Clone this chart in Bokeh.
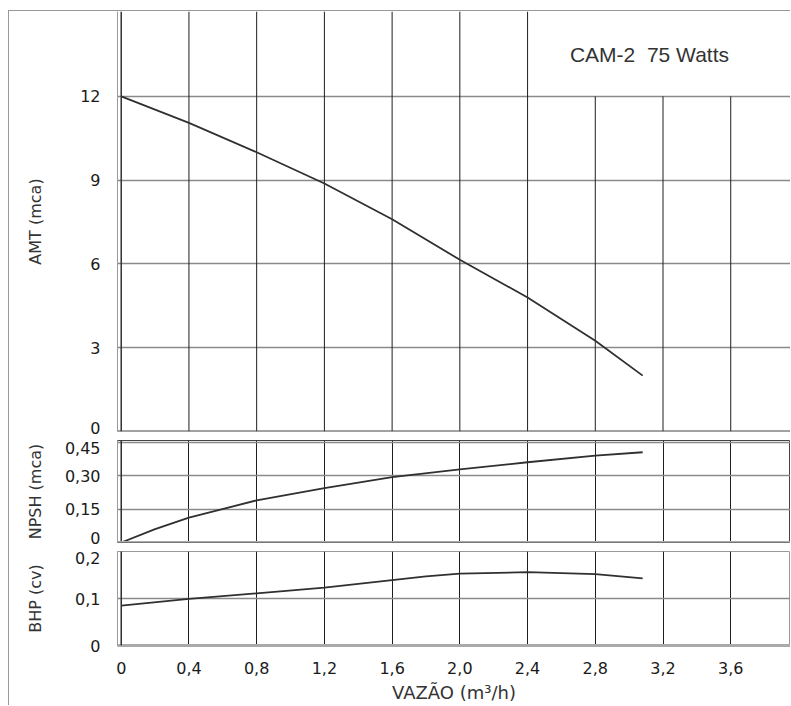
from bokeh.plotting import figure
from bokeh.layouts import column
from bokeh.models import Range1d, FixedTicker, Span, Label
from bokeh.embed import file_html
from bokeh.resources import INLINE

# ---- data ----
flow_ticks = [0, 0.4, 0.8, 1.2, 1.6, 2.0, 2.4, 2.8, 3.2, 3.6]
flow_labels = ["0", "0,4", "0,8", "1,2", "1,6", "2,0", "2,4", "2,8", "3,2", "3,6"]

amt_flow = [0.0, 0.4, 0.8, 1.2, 1.6, 2.0, 2.4, 2.8, 3.08]
amt = [12.0, 11.05, 10.0, 8.88, 7.6, 6.15, 4.8, 3.25, 2.0]

npsh_flow = [0.0, 0.2, 0.4, 0.8, 1.2, 1.6, 2.0, 2.4, 2.8, 3.08]
npsh = [0.0, 0.06, 0.112, 0.19, 0.245, 0.295, 0.33, 0.362, 0.392, 0.407]

bhp_flow = [0.0, 0.4, 0.8, 1.2, 1.6, 1.8, 2.0, 2.4, 2.8, 3.08]
bhp = [0.085, 0.099, 0.111, 0.123, 0.139, 0.147, 0.153, 0.156, 0.152, 0.143]

amt_ticks = [0, 3, 6, 9, 12]
amt_labels = ["0", "3", "6", "9", "12"]
npsh_ticks = [0, 0.15, 0.30, 0.45]
npsh_labels = ["0", "0,15", "0,30", "0,45"]
bhp_ticks = [0, 0.1, 0.2]
bhp_labels = ["0", "0,1", "0,2"]

title_text = "CAM-2\u00a0 75 Watts"
title_box_from = 2.4   # vertical lines right of this stop at the 12 m line

FONT = "DejaVu Sans"
TICK_SIZE = "16px"
TEXT_COL = "#1a1a1a"
GRID_H = "#8a8a8a"
GRID_V = "#1e1e1e"
CURVE = "#303030"

x_range = Range1d(-0.022, 3.953)
W = 781
LEFT = 108


def base(height, frame_h, y_range, yticks, ylabels, nudges_px, ylabel, standoff, top, bottom):
    p = figure(width=W, height=height, x_range=x_range, y_range=y_range,
               output_backend="svg", toolbar_location=None, title=None,
               min_border_left=LEFT, min_border_right=0,
               min_border_top=top, min_border_bottom=bottom)
    p.background_fill_color = "white"
    p.border_fill_color = "white"
    # tick labels at the panel edges are nudged inward so they stay inside the canvas
    per_px = (y_range.end - y_range.start) / frame_h
    label_pos = [t + n * per_px for t, n in zip(yticks, nudges_px)]
    p.yaxis.ticker = FixedTicker(ticks=label_pos)
    p.yaxis.major_label_overrides = dict(zip(label_pos, ylabels))
    p.yaxis.major_tick_line_color = None
    p.yaxis.minor_tick_line_color = None
    p.yaxis.axis_line_color = "#999999"
    p.yaxis.major_label_standoff = 11
    p.yaxis.major_label_text_font = FONT
    p.yaxis.major_label_text_font_size = TICK_SIZE
    p.yaxis.major_label_text_color = TEXT_COL
    p.yaxis.axis_label = ylabel
    p.yaxis.axis_label_text_font = FONT
    p.yaxis.axis_label_text_font_size = "16px"
    p.yaxis.axis_label_text_font_style = "normal"
    p.yaxis.axis_label_text_color = "#333333"
    p.yaxis.axis_label_standoff = standoff
    p.ygrid.ticker = FixedTicker(ticks=yticks)
    p.ygrid.grid_line_color = GRID_H
    p.ygrid.grid_line_width = 1.5
    p.xgrid.ticker = FixedTicker(ticks=flow_ticks)
    p.xgrid.grid_line_color = GRID_V
    p.xgrid.grid_line_width = 1
    p.add_layout(Span(location=0, dimension="height", line_color="#333333", line_width=1.5))
    return p


# ---- AMT panel ----
f1 = base(426, 420, Range1d(0, 15.04), amt_ticks, amt_labels, [4, 0, 0, 0, 0],
          "AMT (mca)", 32, 0, 6)
f1.xaxis.visible = False
f1.xgrid.visible = False
f1.outline_line_color = None
vx = flow_ticks[1:]
vtop = [f1.y_range.end if x <= title_box_from else amt_ticks[-1] for x in vx]
f1.segment(x0=vx, y0=[0] * len(vx), x1=vx, y1=vtop, line_color=GRID_V, line_width=1)
f1.add_layout(Span(location=0, dimension="width", line_color="#444444", line_width=2))
f1.line(amt_flow, amt, line_color=CURVE, line_width=1.8)
f1.add_layout(Label(x=3.12, y=13.5, text=title_text, text_align="center",
                    text_baseline="middle", text_font="Liberation Sans",
                    text_font_size="21px", text_color="#333333"))

# ---- NPSH panel ----
f2 = base(110, 102, Range1d(0, 0.46), npsh_ticks, npsh_labels, [5, 0, 0, -5],
          "NPSH (mca)", 17, 3, 5)
f2.xaxis.visible = False
f2.outline_line_color = "#444444"
f2.add_layout(Span(location=0, dimension="width", line_color="#aaaaaa", line_width=3))
f2.line(npsh_flow, npsh, line_color=CURVE, line_width=1.8)

# ---- BHP panel ----
f3 = base(158, 99, Range1d(0, 0.2), bhp_ticks, bhp_labels, [0, 0, -7],
          "BHP (cv)", 27, 4, 55)
f3.outline_line_color = "#999999"
f3.xaxis.ticker = FixedTicker(ticks=flow_ticks)
f3.xaxis.major_label_overrides = dict(zip(flow_ticks, flow_labels))
f3.xaxis.major_tick_line_color = None
f3.xaxis.minor_tick_line_color = None
f3.xaxis.axis_line_color = "#aaaaaa"
f3.xaxis.axis_line_width = 3
f3.xaxis.major_label_standoff = 10
f3.xaxis.major_label_text_font = FONT
f3.xaxis.major_label_text_font_size = TICK_SIZE
f3.xaxis.major_label_text_color = TEXT_COL
f3.xaxis.axis_label = "VAZÃO (m³/h)"
f3.xaxis.axis_label_text_font = FONT
f3.xaxis.axis_label_text_font_size = "18px"
f3.xaxis.axis_label_text_font_style = "normal"
f3.xaxis.axis_label_text_color = "#333333"
f3.xaxis.axis_label_standoff = 5
f3.line(bhp_flow, bhp, line_color=CURVE, line_width=1.8)

layout = column(f1, f2, f3, spacing=0,
                styles={"margin-left": "8px", "margin-top": "10px",
                        "border-left": "1px solid #999999",
                        "border-top": "1px solid #999999"})

open("out.html", "w").write(file_html(layout, INLINE))
